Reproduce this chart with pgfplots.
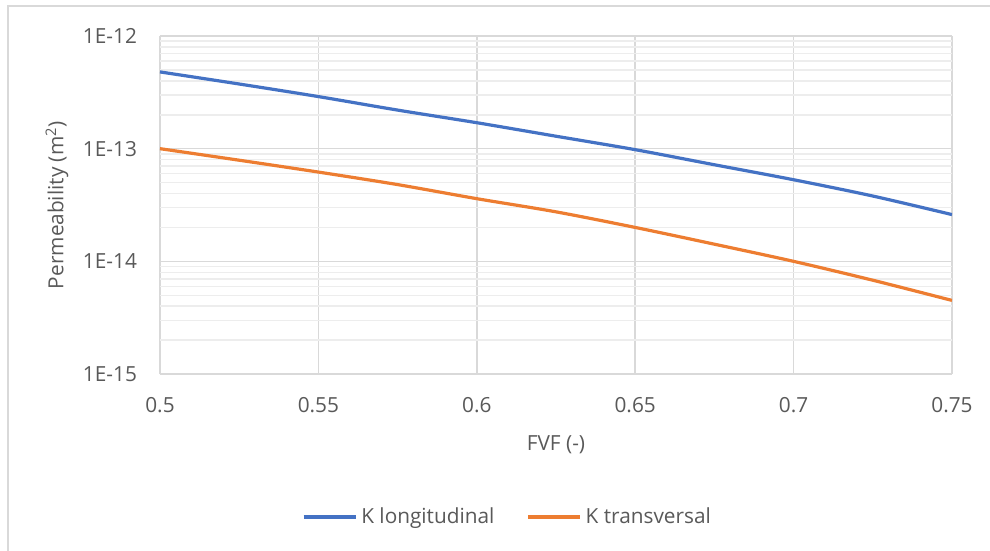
\documentclass[border=0pt]{standalone}
\usepackage{fontspec}
\setmainfont{Open Sans}
\usepackage{pgfplots}
\pgfplotsset{compat=1.18}
\definecolor{exblue}{HTML}{4472C4}
\definecolor{exorange}{HTML}{ED7D31}
\definecolor{txtgray}{HTML}{595959}
\definecolor{majgrid}{HTML}{D9D9D9}
\definecolor{mingrid}{HTML}{EDEDED}
\definecolor{bordergray}{HTML}{D9D9D9}
\newcommand{\lblfont}{\fontsize{10.4}{12}\selectfont}
\begin{document}
\begin{tikzpicture}
\path[use as bounding box] (0,0) rectangle (495pt,275.5pt);
\draw[bordergray, line width=0.8pt] (4pt,0) -- (4pt,272.5pt) -- (495pt,272.5pt);
\begin{axis}[
  at={(80pt,88.5pt)}, anchor=south west,
  scale only axis, width=396pt, height=169pt,
  ymode=log,
  xmin=0.5, xmax=0.75, ymin=1e-15, ymax=1e-12,
  xtick={0.5,0.55,0.6,0.65,0.7,0.75},
  xticklabels={0.5,0.55,0.6,0.65,0.7,0.75},
  ytick={1e-15,1e-14,1e-13,1e-12},
  yticklabels={1E-15,1E-14,1E-13,1E-12},
  minor ytick={2e-15,3e-15,4e-15,5e-15,6e-15,7e-15,8e-15,9e-15,
               2e-14,3e-14,4e-14,5e-14,6e-14,7e-14,8e-14,9e-14,
               2e-13,3e-13,4e-13,5e-13,6e-13,7e-13,8e-13,9e-13},
  major tick length=0pt, minor tick length=0pt,
  grid=both,
  major grid style={majgrid, line width=0.75pt},
  minor grid style={mingrid, line width=0.75pt},
  axis x line*=bottom, axis y line*=left,
  x axis line style={draw=majgrid, line width=0.9pt, -},
  y axis line style={draw=none, -},
  tick label style={font=\lblfont, text=txtgray},
  xticklabel style={yshift=-8pt},
  yticklabel style={xshift=-8pt},
  xlabel={FVF (-)},
  ylabel={Permeability (m\textsuperscript{2})},
  label style={font=\lblfont, text=txtgray},
  xlabel style={at={(axis description cs:0.5,-0.21)}, anchor=center},
  ylabel style={at={(axis description cs:-0.13,0.5)}, anchor=center, rotate=0},
  legend columns=2,
  legend style={at={(axis description cs:0.44,-0.423)}, anchor=center, draw=none,
    font=\lblfont, text=txtgray,
    /tikz/every even column/.append style={column sep=14pt}},
  legend image code/.code={\draw[#1, line width=1.6pt] (0pt,0pt) -- (26pt,0pt);},
]
\addplot[exblue, line width=1.6pt, smooth] table {
x y
0.5   4.8e-13
0.525 3.75e-13
0.55  2.9e-13
0.575 2.2e-13
0.6   1.7e-13
0.625 1.29e-13
0.65  9.8e-14
0.675 7.2e-14
0.7   5.3e-14
0.725 3.8e-14
0.75  2.6e-14
};
\addlegendentry{K longitudinal}
\addplot[exorange, line width=1.6pt, smooth] table {
x y
0.5   1.0e-13
0.525 7.9e-14
0.55  6.2e-14
0.575 4.8e-14
0.6   3.6e-14
0.625 2.75e-14
0.65  2.0e-14
0.675 1.42e-14
0.7   1.0e-14
0.725 6.8e-15
0.75  4.5e-15
};
\addlegendentry{K transversal}
\end{axis}
\end{tikzpicture}
\end{document}
